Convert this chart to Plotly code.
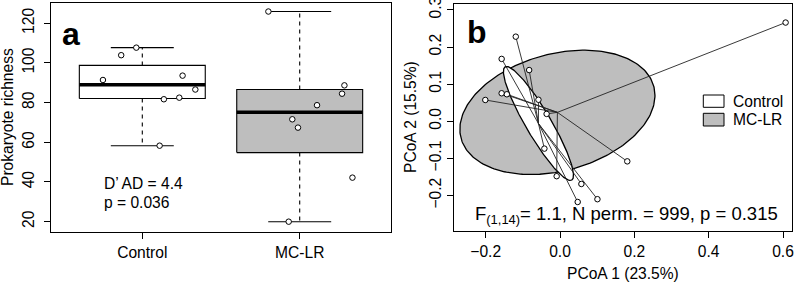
import numpy as np
import plotly.graph_objects as go

# ---------------- data ----------------
categories = ["Control", "MC-LR"]
control_richness = [91.4, 103.9, 107.7, 93.6, 86.6, 81.7, 82.5, 58.3]
control_jitter = [-0.25, -0.134, -0.038, 0.256, 0.337, 0.137, 0.235, 0.110]
mclr_richness = [125.9, 88.7, 84.5, 78.7, 71.6, 67.4, 42.2, 20.0]
mclr_jitter = [-0.199, 0.284, 0.269, 0.110, -0.047, -0.011, 0.335, -0.070]

pcoa1_control = [-0.119, -0.157, -0.083, -0.058, -0.042, 0.0575, 0.1007, 0.0476]
pcoa2_control = [0.228, 0.168, 0.138, 0.058, -0.0737, -0.169, -0.210, -0.2175]
pcoa1_mclr = [0.607, -0.157, -0.143, -0.201, -0.036, 0.181, -0.009]
pcoa2_mclr = [0.266, 0.0755, 0.0728, 0.0574, 0.0198, -0.108, -0.148]

centroid1 = [-0.058, -0.007]   # Control, MC-LR (PCoA 1)
centroid2 = [-0.006, 0.024]    # Control, MC-LR (PCoA 2)
ellipse_major = [0.177, 0.2686]
ellipse_minor = [0.034, 0.1575]
ellipse_angle = [-59.6, 15.2]

x_ticks_b = [-0.2, 0.0, 0.2, 0.4, 0.6]
y_ticks_b = [-0.2, -0.1, 0.0, 0.1, 0.2, 0.3]
y_ticks_a = [20, 40, 60, 80, 100, 120]

GRAY = "#bebebe"
FONT = "Liberation Sans, Arial, sans-serif"
FS = 15.6

def fivenum_stats(v):
    s = np.sort(np.asarray(v, float))
    n = len(s)
    n4 = np.floor((n + 3) / 2) / 2
    d = np.array([1, n4, (n + 1) / 2, n + 1 - n4, n])
    f = 0.5 * (s[np.floor(d).astype(int) - 1] + s[np.ceil(d).astype(int) - 1])
    q1, med, q3 = f[1], f[2], f[3]
    iqr = q3 - q1
    lo = s[s >= q1 - 1.5 * iqr].min()
    hi = s[s <= q3 + 1.5 * iqr].max()
    return lo, q1, med, q3, hi

fig = go.Figure()

# ---------------- panel a ----------------
fills = ["white", GRAY]
for i, (vals, jit) in enumerate([(control_richness, control_jitter), (mclr_richness, mclr_jitter)]):
    pos = i + 1
    lo, q1, med, q3, hi = fivenum_stats(vals)
    hw, cw = 0.4, 0.2
    fig.add_trace(go.Scatter(x=[pos, pos, None, pos, pos], y=[q3, hi, None, q1, lo], mode="lines",
                             line=dict(color="black", width=1.1, dash="4px,4px"),
                             xaxis="x", yaxis="y", hoverinfo="skip", showlegend=False))
    fig.add_trace(go.Scatter(x=[pos - cw, pos + cw, None, pos - cw, pos + cw], y=[hi, hi, None, lo, lo],
                             mode="lines", line=dict(color="black", width=1.1),
                             xaxis="x", yaxis="y", hoverinfo="skip", showlegend=False))
    fig.add_trace(go.Scatter(x=[pos - hw, pos + hw, pos + hw, pos - hw, pos - hw], y=[q1, q1, q3, q3, q1],
                             mode="lines", fill="toself", fillcolor=fills[i],
                             line=dict(color="black", width=1.1),
                             xaxis="x", yaxis="y", hoverinfo="skip", showlegend=False))
    fig.add_trace(go.Scatter(x=[pos - hw, pos + hw], y=[med, med], mode="lines",
                             line=dict(color="black", width=3.6),
                             xaxis="x", yaxis="y", hoverinfo="skip", showlegend=False))
    fig.add_trace(go.Scatter(x=[pos + j for j in jit], y=vals, mode="markers",
                             marker=dict(size=5.5, color="white", line=dict(color="black", width=1)),
                             xaxis="x", yaxis="y", hoverinfo="skip", showlegend=False))

# ---------------- panel b ----------------
groups = [(pcoa1_control, pcoa2_control), (pcoa1_mclr, pcoa2_mclr)]
t = np.linspace(0, 2 * np.pi, 241)
for gi in [1, 0]:
    a, b, ang = ellipse_major[gi], ellipse_minor[gi], np.deg2rad(ellipse_angle[gi])
    ex = centroid1[gi] + a * np.cos(t) * np.cos(ang) - b * np.sin(t) * np.sin(ang)
    ey = centroid2[gi] + a * np.cos(t) * np.sin(ang) + b * np.sin(t) * np.cos(ang)
    fig.add_trace(go.Scatter(x=ex, y=ey, mode="lines", fill="toself",
                             fillcolor=fills[gi], line=dict(color="black", width=1.3),
                             xaxis="x2", yaxis="y2", hoverinfo="skip", showlegend=False))

for gi, (px, py) in enumerate(groups):
    sx, sy = [], []
    for xv, yv in zip(px, py):
        sx += [centroid1[gi], xv, None]
        sy += [centroid2[gi], yv, None]
    fig.add_trace(go.Scatter(x=sx, y=sy, mode="lines", line=dict(color="#222222", width=0.9),
                             xaxis="x2", yaxis="y2", hoverinfo="skip", showlegend=False))

for gi, (px, py) in enumerate(groups):
    fig.add_trace(go.Scatter(x=px, y=py, mode="markers",
                             marker=dict(size=5.5, color="white", line=dict(color="black", width=1)),
                             xaxis="x2", yaxis="y2", hoverinfo="skip", showlegend=False))

W, H = 796, 283
def px_x(v):
    return v / W
def px_y(v):
    return 1 - v / H

axis_common = dict(showgrid=False, zeroline=False, showline=True, mirror=True, automargin=False,
                   linecolor="black", linewidth=1, ticks="outside", ticklen=6,
                   tickwidth=1, tickcolor="black", ticklabeloverflow="allow",
                   tickfont=dict(family=FONT, size=FS, color="black"))

fig.update_layout(
    width=W, height=H, margin=dict(l=0, r=0, t=0, b=0, autoexpand=False),
    paper_bgcolor="white", plot_bgcolor="white",
    font=dict(family=FONT, size=FS, color="black"),
    showlegend=False,
    xaxis=dict(domain=[px_x(51), px_x(391)], range=[0.42, 2.58],
               tickvals=[1, 2], ticktext=categories, anchor="y", **axis_common),
    yaxis=dict(domain=[px_y(232), px_y(3)], range=[14.8, 130.2], ticklabelstandoff=4,
               tickvals=y_ticks_a, tickangle=-90, anchor="x", **axis_common),
    xaxis2=dict(domain=[px_x(454.3), px_x(792.3)], range=[-0.2844, 0.625],
                tickvals=x_ticks_b, tickformat=".1f", anchor="y2", **axis_common),
    yaxis2=dict(domain=[px_y(231), px_y(4)], range=[-0.2957, 0.316],
                tickvals=y_ticks_b, tickformat=".1f", tickangle=-90, anchor="x2", **axis_common),
)

ann = []
def add_text(text, x, y, size=FS, xanchor="left", yanchor="middle", angle=0, bold=False):
    ann.append(dict(text=("<b>%s</b>" % text) if bold else text, x=x, y=y, xref="paper", yref="paper",
                    xanchor=xanchor, yanchor=yanchor, showarrow=False, textangle=angle,
                    font=dict(family=FONT, size=size, color="black")))

add_text("a", px_x(60), px_y(34), size=32, bold=True)
add_text("b", px_x(465), px_y(32), size=32, bold=True)
add_text("D\u2019 AD = 4.4", px_x(101.7), px_y(183.6))
add_text("p = 0.036", px_x(101.7), px_y(202.9))
add_text("Prokaryote richness", px_x(7.5), px_y(117.5), xanchor="center", angle=-90)
add_text("PCoA 2 (15.5%)", px_x(410), px_y(117), xanchor="center", angle=-90)
add_text("PCoA 1 (23.5%)", px_x(623.3), px_y(273.3), xanchor="center")
add_text("F<sub>(1,14)</sub>= 1.1, N perm. = 999, p = 0.315", px_x(472.7), px_y(215.3), size=18.5)
add_text("Control", px_x(731), px_y(101))
add_text("MC-LR", px_x(731), px_y(119.7))

shapes = [
    dict(type="rect", xref="paper", yref="paper", x0=px_x(703.3), x1=px_x(724), y0=px_y(107.3), y1=px_y(95),
         line=dict(color="black", width=1), fillcolor="white"),
    dict(type="rect", xref="paper", yref="paper", x0=px_x(703.3), x1=px_x(724), y0=px_y(126), y1=px_y(113.3),
         line=dict(color="black", width=1), fillcolor=GRAY),
]
fig.update_layout(annotations=ann, shapes=shapes)

fig.write_html("out.html", config={"displayModeBar": False, "staticPlot": True},
               post_script="document.body.style.margin='0';document.body.style.overflow='hidden';")
